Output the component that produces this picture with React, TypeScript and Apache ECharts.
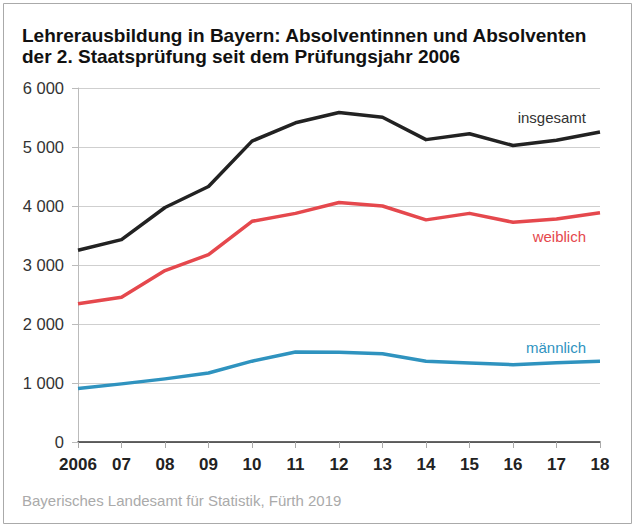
import React, { useEffect, useRef } from "react";
import * as echarts from "echarts";

const years = ["2006", "07", "08", "09", "10", "11", "12", "13", "14", "15", "16", "17", "18"];
const insgesamt = [3250, 3430, 3975, 4330, 5100, 5410, 5585, 5505, 5125, 5225, 5025, 5115, 5255];
const weiblich = [2345, 2455, 2905, 3175, 3740, 3875, 4060, 4000, 3765, 3875, 3725, 3780, 3885];
const maennlich = [905, 985, 1070, 1170, 1370, 1525, 1520, 1495, 1370, 1340, 1310, 1345, 1370];

const titleLines = [
  "Lehrerausbildung in Bayern: Absolventinnen und Absolventen",
  "der 2. Staatsprüfung seit dem Prüfungsjahr 2006",
];
const sourceText = "Bayerisches Landesamt für Statistik, Fürth 2019";
const seriesNames = ["insgesamt", "weiblich", "männlich"];

const FONT = "Liberation Sans, Arial, Helvetica, sans-serif";
const COLORS = ["#222222", "#e5484d", "#2f93bf"];

export default function App() {
  const ref = useRef<HTMLDivElement>(null);
  useEffect(() => {
    if (!ref.current) return;
    const chart = echarts.init(ref.current, null, { renderer: "svg" });
    const fmt = (v: number) => {
      const s = String(v);
      return s.length > 3 ? s.slice(0, s.length - 3) + " " + s.slice(-3) : s;
    };
    const mkSeries = (name: string, data: number[], color: string) => ({
      name,
      type: "line",
      data,
      symbol: "none",
      lineStyle: { color, width: 3.5, join: "round" },
      z: 3,
    });
    chart.setOption({
      animation: false,
      textStyle: { fontFamily: FONT },
      grid: { left: 78, right: 36, top: 88, bottom: 86, containLabel: false },
      xAxis: {
        type: "category",
        data: years,
        boundaryGap: false,
        axisLine: { show: true, lineStyle: { color: "#333", width: 1.5 } },
        axisTick: { show: true, length: 6, interval: 0, lineStyle: { color: "#aaa" } },
        axisLabel: { interval: 0, margin: 14, fontSize: 17, fontWeight: "bold", color: "#222", fontFamily: FONT },
        splitLine: { show: false },
      },
      yAxis: {
        type: "value",
        min: 0,
        max: 6000,
        interval: 1000,
        axisLine: { show: true, lineStyle: { color: "#bbb", width: 1 } },
        axisTick: { show: true, length: 6, lineStyle: { color: "#bbb" } },
        axisLabel: { margin: 14, fontSize: 16.5, color: "#333", fontFamily: FONT, formatter: fmt },
        splitLine: { show: true, lineStyle: { color: "#cfcfcf", width: 1 } },
      },
      series: [
        mkSeries(seriesNames[0], insgesamt, COLORS[0]),
        mkSeries(seriesNames[1], weiblich, COLORS[1]),
        mkSeries(seriesNames[2], maennlich, COLORS[2]),
      ],
      graphic: [
        {
          type: "rect",
          shape: { x: 3.5, y: 3.5, width: 628, height: 520 },
          style: { fill: "none", stroke: "#aaaaaa", lineWidth: 1 },
          silent: true,
        },
        {
          type: "text",
          x: 22,
          y: 35,
          style: { text: titleLines[0], font: `bold 19px ${FONT}`, fill: "#111", verticalAlign: "middle" },
        },
        {
          type: "text",
          x: 22,
          y: 56,
          style: { text: titleLines[1], font: `bold 19px ${FONT}`, fill: "#111", verticalAlign: "middle" },
        },
        {
          type: "text",
          x: 22,
          y: 500,
          style: { text: sourceText, font: `15px ${FONT}`, fill: "#aaaaaa", verticalAlign: "middle" },
        },
        {
          type: "text",
          x: 586,
          y: 117,
          style: { text: seriesNames[0], font: `15px ${FONT}`, fill: "#333", align: "right", verticalAlign: "middle" },
        },
        {
          type: "text",
          x: 586,
          y: 236,
          style: { text: seriesNames[1], font: `15px ${FONT}`, fill: COLORS[1], align: "right", verticalAlign: "middle" },
        },
        {
          type: "text",
          x: 586,
          y: 347,
          style: { text: seriesNames[2], font: `15px ${FONT}`, fill: COLORS[2], align: "right", verticalAlign: "middle" },
        },
      ],
    });
    return () => chart.dispose();
  }, []);
  return (
    <div
      ref={ref}
      style={{ position: "absolute", left: 0, top: 0, width: 636, height: 528, background: "#fff" }}
    />
  );
}
